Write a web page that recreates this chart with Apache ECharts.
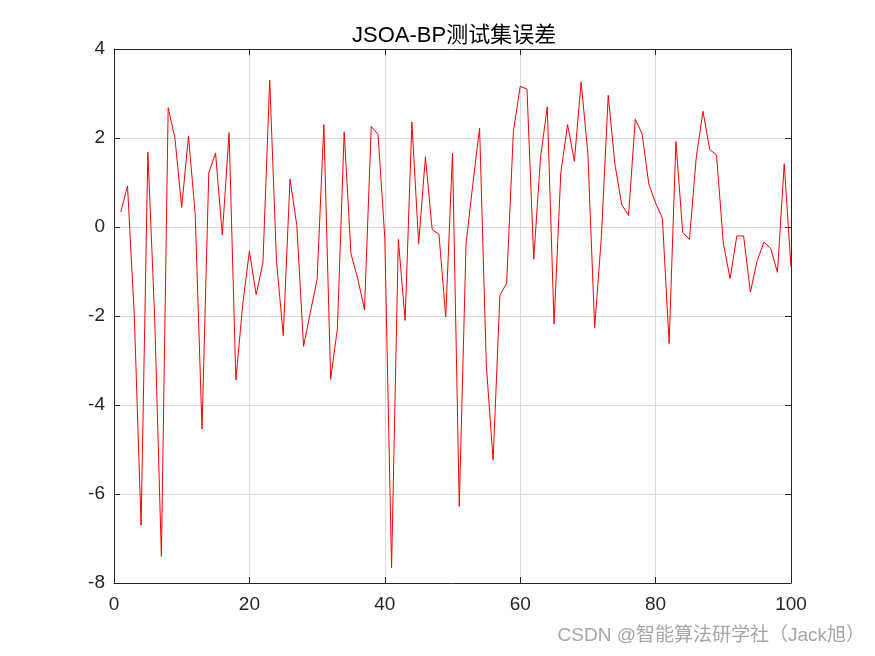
<!DOCTYPE html>
<html>
<head>
<meta charset="utf-8">
<script src="https://cdn.jsdelivr.net/npm/echarts@6/dist/echarts.min.js"></script>
<style>
html,body{margin:0;padding:0;background:#fff;}
#main{width:875px;height:656px;}
</style>
</head>
<body>
<div id="main"></div>
<script>
const titleText = 'JSOA-BP测试集误差';
const watermark = 'CSDN @智能算法研学社（Jack旭）';
const xTicks = [0, 20, 40, 60, 80, 100];
const yTicks = [-8, -6, -4, -2, 0, 2, 4];
const errors = [
  0.34, 0.92, -2.0, -6.70, 1.68, -2.0, -7.40, 2.68, 2.0, 0.44,
  2.04, 0.28, -4.54, 1.22, 1.66, -0.18, 2.12, -3.44, -1.76, -0.54,
  -1.52, -0.80, 3.30, -0.76, -2.44, 1.08, 0.04, -2.68, -1.92, -1.18,
  2.30, -3.42, -2.28, 2.14, -0.60, -1.16, -1.86, 2.26, 2.08, -0.24,
  -7.66, -0.28, -2.10, 2.36, -0.38, 1.58, -0.06, -0.16, -2.02, 1.66,
  -6.28, -0.38, 0.96, 2.22, -3.12, -5.24, -1.54, -1.26, 2.16, 3.16,
  3.10, -0.72, 1.56, 2.70, -2.18, 1.22, 2.30, 1.48, 3.26, 1.64,
  -2.26, -0.20, 2.96, 1.40, 0.50, 0.26, 2.42, 2.10, 0.96, 0.54,
  0.20, -2.62, 1.92, -0.12, -0.28, 1.56, 2.60, 1.74, 1.62, -0.36,
  -1.16, -0.20, -0.20, -1.46, -0.76, -0.34, -0.48, -1.02, 1.42, -0.90
];
const seriesData = errors.map((v, i) => [i + 1, v]);

const axisColor = '#262626';
const font = '"Liberation Sans", Arial, "Noto Sans CJK SC", sans-serif';

const chart = echarts.init(document.getElementById('main'), null, {renderer: 'canvas'});
const baseAxis = {
  axisLine: {show: true, onZero: false, lineStyle: {color: axisColor, width: 1}},
  axisTick: {show: true, inside: true, length: 6, lineStyle: {color: axisColor}},
  splitLine: {show: false},
  axisLabel: {show: false}
};
chart.setOption({
  animation: false,
  backgroundColor: '#ffffff',
  title: {
    text: titleText,
    left: 347,
    top: 20,
    textStyle: {fontFamily: font, fontSize: 22, fontWeight: 'normal', color: '#000'}
  },
  graphic: [{
    type: 'text',
    right: 10,
    top: 626,
    style: {text: watermark, fontFamily: font, fontSize: 19, fill: '#a6a6a6'}
  }],
  grid: {left: 114, right: 84, top: 49, bottom: 73},
  xAxis: [
    Object.assign({}, baseAxis, {
      type: 'value', min: xTicks[0], max: xTicks[xTicks.length - 1], interval: 20,
      position: 'bottom',
      splitLine: {show: true, lineStyle: {color: '#dcdcdc', width: 1}},
      axisLabel: {show: true, fontFamily: font, fontSize: 19, color: axisColor, margin: 12}
    }),
    Object.assign({}, baseAxis, {
      type: 'value', min: xTicks[0], max: xTicks[xTicks.length - 1], interval: 20,
      position: 'top'
    })
  ],
  yAxis: [
    Object.assign({}, baseAxis, {
      type: 'value', min: yTicks[0], max: yTicks[yTicks.length - 1], interval: 2,
      position: 'left',
      splitLine: {show: true, lineStyle: {color: '#dcdcdc', width: 1}},
      axisLabel: {show: true, fontFamily: font, fontSize: 19, color: axisColor, margin: 9}
    }),
    Object.assign({}, baseAxis, {
      type: 'value', min: yTicks[0], max: yTicks[yTicks.length - 1], interval: 2,
      position: 'right'
    })
  ],
  series: [{
    type: 'line',
    data: seriesData,
    xAxisIndex: 0,
    yAxisIndex: 0,
    showSymbol: false,
    symbol: 'none',
    lineStyle: {color: '#ff0000', width: 1},
    itemStyle: {color: '#ff0000'}
  }]
});
</script>
</body>
</html>
